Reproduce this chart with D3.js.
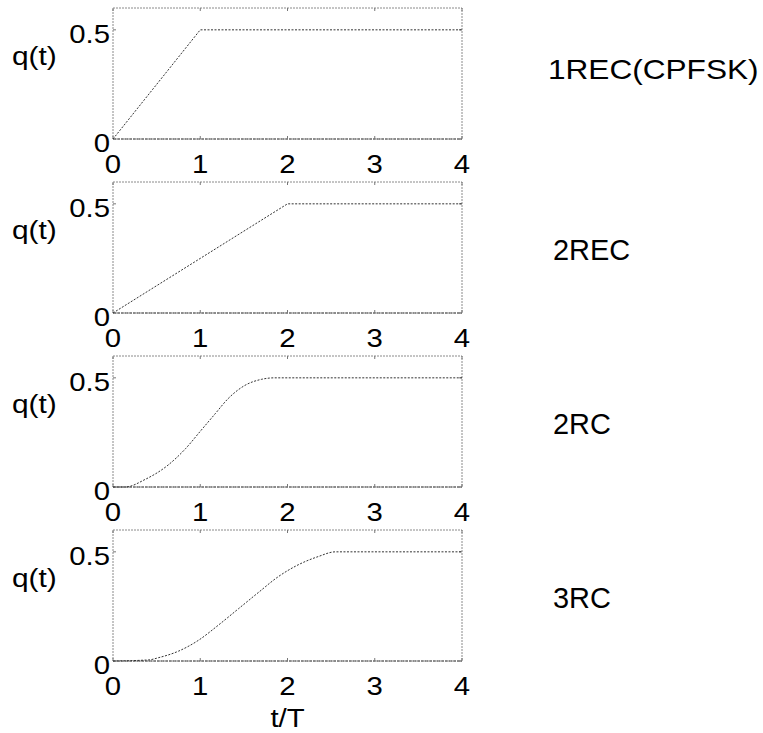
<!DOCTYPE html>
<html>
<head>
<meta charset="utf-8">
<script src="https://cdn.jsdelivr.net/npm/d3@7"></script>
<style>
  html, body { margin: 0; padding: 0; background: #fff; }
  svg { display: block; }
  text { font-family: "Liberation Sans", Arial, sans-serif; fill: #000; }
</style>
</head>
<body>
<svg id="chart" width="763" height="733"></svg>
<script>
// Phase response curves q(t) for four CPM frequency pulses
const tTicks = [0, 1, 2, 3, 4];
const qTicks = [0, 0.5];
const pulseNames = ["1REC(CPFSK)", "2REC", "2RC", "3RC"];

const t1REC = [0, 1, 4];
const q1REC = [0, 0.5, 0.5];

const t2REC = [0, 2, 4];
const q2REC = [0, 0.5, 0.5];

const t2RC = [0, 0.14, 0.37, 0.63, 0.83, 1.0, 1.17, 1.32, 1.51, 1.70, 1.85, 4];
const q2RC = [0, 0, 0.035, 0.10, 0.175, 0.255, 0.335, 0.405, 0.465, 0.493, 0.5, 0.5];

const t3RC = [0, 0.41, 0.52, 0.75, 0.98, 1.21, 1.44, 1.67, 1.89, 2.12, 2.35, 2.55, 4];
const q3RC = [0, 0.005, 0.015, 0.045, 0.095, 0.165, 0.24, 0.315, 0.385, 0.44, 0.478, 0.5, 0.5];

const seriesT = [t1REC, t2REC, t2RC, t3RC];
const seriesQ = [q1REC, q2REC, q2RC, q3RC];
// rectangular pulses give straight ramps, raised-cosine pulses give smooth ones
const smoothSeries = [false, false, true, true];

const svg = d3.select("#chart");

const left = 113, right = 462;
const panelHeight = 131;
const firstBottom = 139, panelStep = 174;

const x = d3.scaleLinear().domain([0, 4]).range([left, right]);

// text drawn slightly wide, like the original figure export
function wideText(g, px, py, str, size, sx, anchor) {
  g.append("g")
    .attr("transform", `translate(${px},${py}) scale(${sx},1)`)
    .append("text")
    .attr("x", 0).attr("y", 0)
    .attr("text-anchor", anchor)
    .style("font-size", size + "px")
    .text(str);
}

pulseNames.forEach((name, i) => {
  const bottom = firstBottom + i * panelStep;
  const top = bottom - panelHeight;
  const y = d3.scaleLinear().domain([0, 0.6]).range([bottom, top]);
  const g = svg.append("g");

  // frame
  g.append("rect")
    .attr("x", left).attr("y", top)
    .attr("width", right - left).attr("height", bottom - top)
    .attr("fill", "none")
    .attr("stroke", "#8a8a8a")
    .attr("stroke-width", 1)
    .attr("stroke-dasharray", "2,1");
  g.append("line")
    .attr("x1", left).attr("x2", right)
    .attr("y1", bottom).attr("y2", bottom)
    .attr("stroke", "#555").attr("stroke-width", 1)
    .attr("stroke-dasharray", "3,1");

  // small inward ticks
  tTicks.forEach(t => {
    g.append("line").attr("x1", x(t)).attr("x2", x(t))
      .attr("y1", bottom).attr("y2", bottom - 3)
      .attr("stroke", "#777");
    g.append("line").attr("x1", x(t)).attr("x2", x(t))
      .attr("y1", top).attr("y2", top + 3)
      .attr("stroke", "#777");
  });
  qTicks.forEach(q => {
    g.append("line").attr("x1", left).attr("x2", left + 3)
      .attr("y1", y(q)).attr("y2", y(q)).attr("stroke", "#777");
    g.append("line").attr("x1", right).attr("x2", right - 3)
      .attr("y1", y(q)).attr("y2", y(q)).attr("stroke", "#777");
  });

  // tick labels
  tTicks.forEach(t => wideText(g, x(t), bottom + 34, String(t), 25.5, 1.15, "middle"));
  qTicks.forEach(q => wideText(g, 110, y(q) + 13, String(q), 25.5, 1.15, "end"));

  // axis label and pulse name (the long first name is set a little smaller)
  wideText(g, 12, top + 57, "q(t)", 26, 1.15, "start");
  if (i === 0) {
    wideText(g, 548, top + 71, name, 27, 1.17, "start");
  } else {
    wideText(g, 553, top + 78, name, 29.5, 0.98, "start");
  }

  // curve
  const pts = seriesT[i].map((t, k) => [t, seriesQ[i][k]]);
  const line = d3.line()
    .curve(smoothSeries[i] ? d3.curveMonotoneX : d3.curveLinear)
    .x(d => x(d[0])).y(d => y(d[1]));
  g.append("path")
    .datum(pts)
    .attr("d", line)
    .attr("fill", "none")
    .attr("stroke", "#333")
    .attr("stroke-width", 1)
    .attr("stroke-dasharray", "2,1.5");
});

wideText(svg, (left + right) / 2, 727, "t/T", 25.5, 1.15, "middle");
</script>
</body>
</html>
